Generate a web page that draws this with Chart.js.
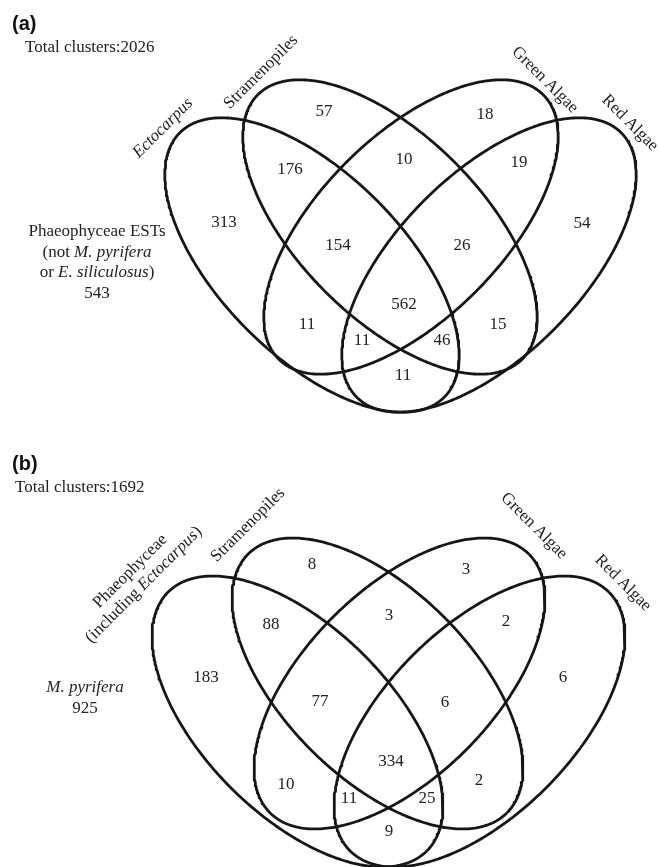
<!DOCTYPE html>
<html>
<head>
<meta charset="utf-8">
<title>Cluster overlap Venn diagrams</title>
<script src="https://cdn.jsdelivr.net/npm/chart.js@4.4.1/dist/chart.umd.min.js"></script>
<style>
  html, body { margin: 0; padding: 0; background: #ffffff; }
  #wrap { position: relative; width: 659px; height: 867px; }
  canvas { display: block; }
</style>
</head>
<body>
<div id="wrap"><canvas id="venn" width="659" height="867"></canvas></div>
<script>
// ---- data ----------------------------------------------------------------
// Region keys: E = Ectocarpus / Phaeophyceae, S = Stramenopiles,
// G = Green Algae, R = Red Algae.
const REGION_KEYS = ['E', 'S', 'G', 'R', 'ES', 'SG', 'GR', 'EG', 'SR', 'ER',
                     'ESG', 'SGR', 'EGR', 'ESR', 'ESGR'];

// Panel (a): Phaeophyceae ESTs
const COUNTS_A = [313, 57, 18, 54, 176, 10, 19, 11, 15, 11, 154, 26, 11, 46, 562];
const OUTSIDE_A = 543;

// Panel (b): M. pyrifera
const COUNTS_B = [183, 8, 3, 6, 88, 3, 2, 10, 2, 9, 77, 6, 11, 25, 334];
const OUTSIDE_B = 925;

// ---- layout ----------------------------------------------------------------
const SERIF = '"Liberation Serif", "Times New Roman", Times, serif';
const SANS = '"Liberation Sans", Arial, Helvetica, sans-serif';
const INK = '#222222';

// Ellipse geometry per panel: [cx, cy, semiMajor, semiMinor, angleDeg]
const PANELS = [
  {
    tag: '(a)', tagPos: [12, 24], totalPos: [25, 48],
    counts: COUNTS_A, outside: OUTSIDE_A,
    ellipses: [
      [312, 265, 187, 91.5, 45],
      [390, 227, 187, 91.5, 45],
      [411, 227, 187, 91.5, -45],
      [489, 265, 187, 91.5, -45]
    ],
    regionPos: {
      E: [224, 223], S: [324, 112], G: [485, 115], R: [582, 224],
      ES: [290, 170], SG: [404, 160], GR: [519, 163], EG: [307, 325],
      SR: [498, 325], ER: [403, 376], ESG: [338, 246], SGR: [462, 246],
      EGR: [362, 341], ESR: [442, 341], ESGR: [404, 305]
    },
    setLabels: [
      { lines: [[{ t: 'Ectocarpus', i: true }]], pos: [163, 128], rot: -45 },
      { lines: [[{ t: 'Stramenopiles' }]], pos: [261, 72], rot: -45 },
      { lines: [[{ t: 'Green Algae' }]], pos: [545, 80], rot: 45 },
      { lines: [[{ t: 'Red Algae' }]], pos: [630, 123], rot: 45 }
    ],
    outsideBlock: {
      pos: [97, 232], step: 20.4,
      lines: [
        [{ t: 'Phaeophyceae ESTs' }],
        [{ t: '(not ' }, { t: 'M. pyrifera', i: true }],
        [{ t: 'or ' }, { t: 'E. siliculosus', i: true }, { t: ')' }]
      ]
    }
  },
  {
    tag: '(b)', tagPos: [12, 464], totalPos: [15, 488],
    counts: COUNTS_B, outside: OUTSIDE_B,
    ellipses: [
      [297.5, 721.5, 183, 94, 45],
      [377.5, 683.5, 183, 94, 45],
      [399.5, 683.5, 183, 94, -45],
      [479.5, 721.5, 183, 94, -45]
    ],
    regionPos: {
      E: [206, 678], S: [312, 565], G: [466, 570], R: [563, 678],
      ES: [271, 625], SG: [389, 616], GR: [506, 622], EG: [286, 785],
      SR: [479, 781], ER: [389, 832], ESG: [320, 702], SGR: [445, 703],
      EGR: [349, 799], ESR: [427, 799], ESGR: [391, 762]
    },
    setLabels: [
      { lines: [[{ t: 'Phaeophyceae' }],
                [{ t: '(including ' }, { t: 'Ectocarpus', i: true }, { t: ')' }]],
        pos: [137, 578], rot: -45, step: 19 },
      { lines: [[{ t: 'Stramenopiles' }]], pos: [248, 525], rot: -45 },
      { lines: [[{ t: 'Green Algae' }]], pos: [534, 526], rot: 45 },
      { lines: [[{ t: 'Red Algae' }]], pos: [623, 583], rot: 45 }
    ],
    outsideBlock: {
      pos: [85, 688], step: 20.4,
      lines: [
        [{ t: 'M. pyrifera', i: true }]
      ]
    }
  }
];

// ---- geometry helpers ------------------------------------------------------
function ellipseOutline(cx, cy, a, b, deg, n = 360) {
  const th = deg * Math.PI / 180;
  const c = Math.cos(th), s = Math.sin(th);
  const pts = [];
  for (let k = 0; k <= n; k++) {
    const t = 2 * Math.PI * k / n;
    const ex = a * Math.cos(t), ey = b * Math.sin(t);
    pts.push({ x: cx + ex * c - ey * s, y: cy + ex * s + ey * c });
  }
  return pts;
}

const datasets = [];
PANELS.forEach(p => {
  p.ellipses.forEach(e => {
    datasets.push({
      data: ellipseOutline(e[0], e[1], e[2], e[3], e[4]),
      showLine: true,
      fill: false,
      tension: 0,
      pointRadius: 0,
      pointHoverRadius: 0,
      borderColor: '#161616',
      borderWidth: 2.8,
      borderJoinStyle: 'round'
    });
  });
});

// ---- text drawing ----------------------------------------------------------
function runFont(run, size) {
  return (run.i ? 'italic ' : '') + size + 'px ' + SERIF;
}

function drawRuns(ctx, runs, size) {
  // draws a line of mixed roman/italic runs centred on (0, 0)
  ctx.save();
  ctx.textAlign = 'left';
  let total = 0;
  const widths = runs.map(r => {
    ctx.font = runFont(r, size);
    const w = ctx.measureText(r.t).width;
    total += w;
    return w;
  });
  let x = -total / 2;
  runs.forEach((r, k) => {
    ctx.font = runFont(r, size);
    ctx.fillText(r.t, x, 0);
    x += widths[k];
  });
  ctx.restore();
}

const vennText = {
  id: 'vennText',
  afterDatasetsDraw(chart) {
    const { ctx } = chart;
    const xs = chart.scales.x, ys = chart.scales.y;
    const px = v => xs.getPixelForValue(v);
    const py = v => ys.getPixelForValue(v);
    const FS = 17;

    ctx.save();
    ctx.fillStyle = INK;
    ctx.textBaseline = 'middle';

    PANELS.forEach(p => {
      // panel tag
      ctx.textAlign = 'left';
      ctx.font = 'bold 20px ' + SANS;
      ctx.fillStyle = '#111111';
      ctx.fillText(p.tag, px(p.tagPos[0]), py(p.tagPos[1]));
      ctx.fillStyle = INK;

      // total clusters
      const total = p.outside + p.counts.reduce((s, v) => s + v, 0);
      ctx.font = FS + 'px ' + SERIF;
      ctx.fillText('Total clusters:' + total, px(p.totalPos[0]), py(p.totalPos[1]));

      // region counts
      ctx.textAlign = 'center';
      REGION_KEYS.forEach((key, k) => {
        const pos = p.regionPos[key];
        ctx.font = FS + 'px ' + SERIF;
        ctx.fillText(String(p.counts[k]), px(pos[0]), py(pos[1]));
      });

      // set names, rotated along the ellipses
      p.setLabels.forEach(lab => {
        const step = lab.step || 19;
        const n = lab.lines.length;
        ctx.save();
        ctx.translate(px(lab.pos[0]), py(lab.pos[1]));
        ctx.rotate(lab.rot * Math.PI / 180);
        lab.lines.forEach((runs, li) => {
          ctx.save();
          ctx.translate(0, (li - (n - 1) / 2) * step);
          drawRuns(ctx, runs, FS);
          ctx.restore();
        });
        ctx.restore();
      });

      // clusters outside every set
      const ob = p.outsideBlock;
      ob.lines.forEach((runs, li) => {
        ctx.save();
        ctx.translate(px(ob.pos[0]), py(ob.pos[1] + li * ob.step));
        drawRuns(ctx, runs, FS);
        ctx.restore();
      });
      ctx.font = FS + 'px ' + SERIF;
      ctx.textAlign = 'center';
      ctx.fillText(String(p.outside), px(ob.pos[0]), py(ob.pos[1] + ob.lines.length * ob.step));
    });

    ctx.restore();
  }
};

new Chart(document.getElementById('venn'), {
  type: 'scatter',
  data: { datasets },
  options: {
    responsive: false,
    animation: false,
    devicePixelRatio: 1,
    layout: { padding: 0 },
    events: [],
    plugins: { legend: { display: false }, tooltip: { enabled: false } },
    scales: {
      x: { type: 'linear', min: 0, max: 659, display: false },
      y: { type: 'linear', min: 0, max: 867, reverse: true, display: false }
    }
  },
  plugins: [vennText]
});
</script>
</body>
</html>
